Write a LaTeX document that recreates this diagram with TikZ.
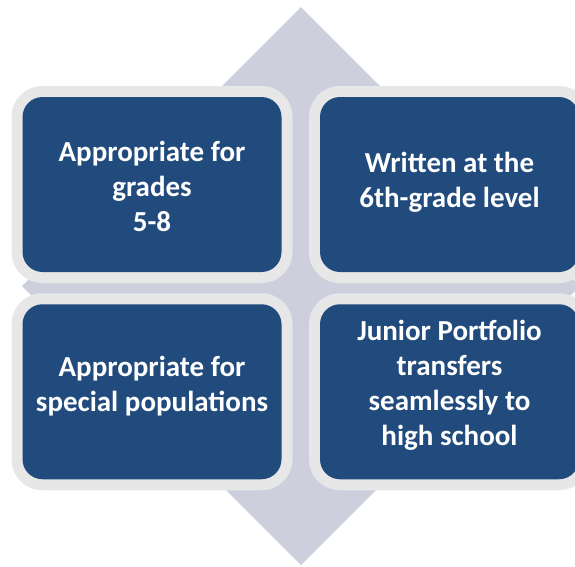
\documentclass[tikz,border=0pt]{standalone}
\usepackage{fontspec}
\setmainfont{Carlito}
\definecolor{boxblue}{HTML}{214A7D}
\definecolor{ringgrey}{HTML}{E7E7E8}
\definecolor{diamondgrey}{HTML}{CDD0DC}
\begin{document}
\begin{tikzpicture}[x=1pt,y=-1pt,
  ringbox/.style={fill=ringgrey, rounded corners=31pt, minimum width=281pt, minimum height=197pt, inner sep=0pt},
  bluebox/.style={fill=boxblue, rounded corners=20pt, minimum width=259pt, minimum height=175pt, inner sep=0pt},
  txt/.style={text=white, font=\fontsize{29}{35}\selectfont\bfseries, align=center, inner sep=0pt}]
\useasboundingbox (0,0) rectangle (575,566);
\clip (0,0) rectangle (575,566);
\fill[diamondgrey] (301,7) -- (580,286) -- (301,565) -- (22,286) -- cycle;
% rings
\node[ringbox] (tlr) at (152,184.5) {};
\node[ringbox] (trr) at (449.5,184.5) {};
\node[ringbox] (blr) at (152,391.75) {};
\node[ringbox] (brr) at (449.5,391.75) {};
% blue boxes
\node[bluebox] (tl) at (tlr.center) {};
\node[bluebox] (tr) at (trr.center) {};
\node[bluebox] (bl) at (blr.center) {};
\node[bluebox] (br) at (brr.center) {};
% texts
\node[txt] (tlt) at ([yshift=-2pt]tl.center) {Appropriate for\\grades\\5-8};
\node[txt] (trt) at ([yshift=2pt]tr.center) {Written at the\\6th-grade level};
\node[txt] (blt) at ([yshift=6pt]bl.center) {Appropriate for\\special populations};
\node[txt] (brt) at ([yshift=6pt]br.center) {Junior Portfolio\\transfers\\seamlessly to\\high school};
\end{tikzpicture}
\end{document}
